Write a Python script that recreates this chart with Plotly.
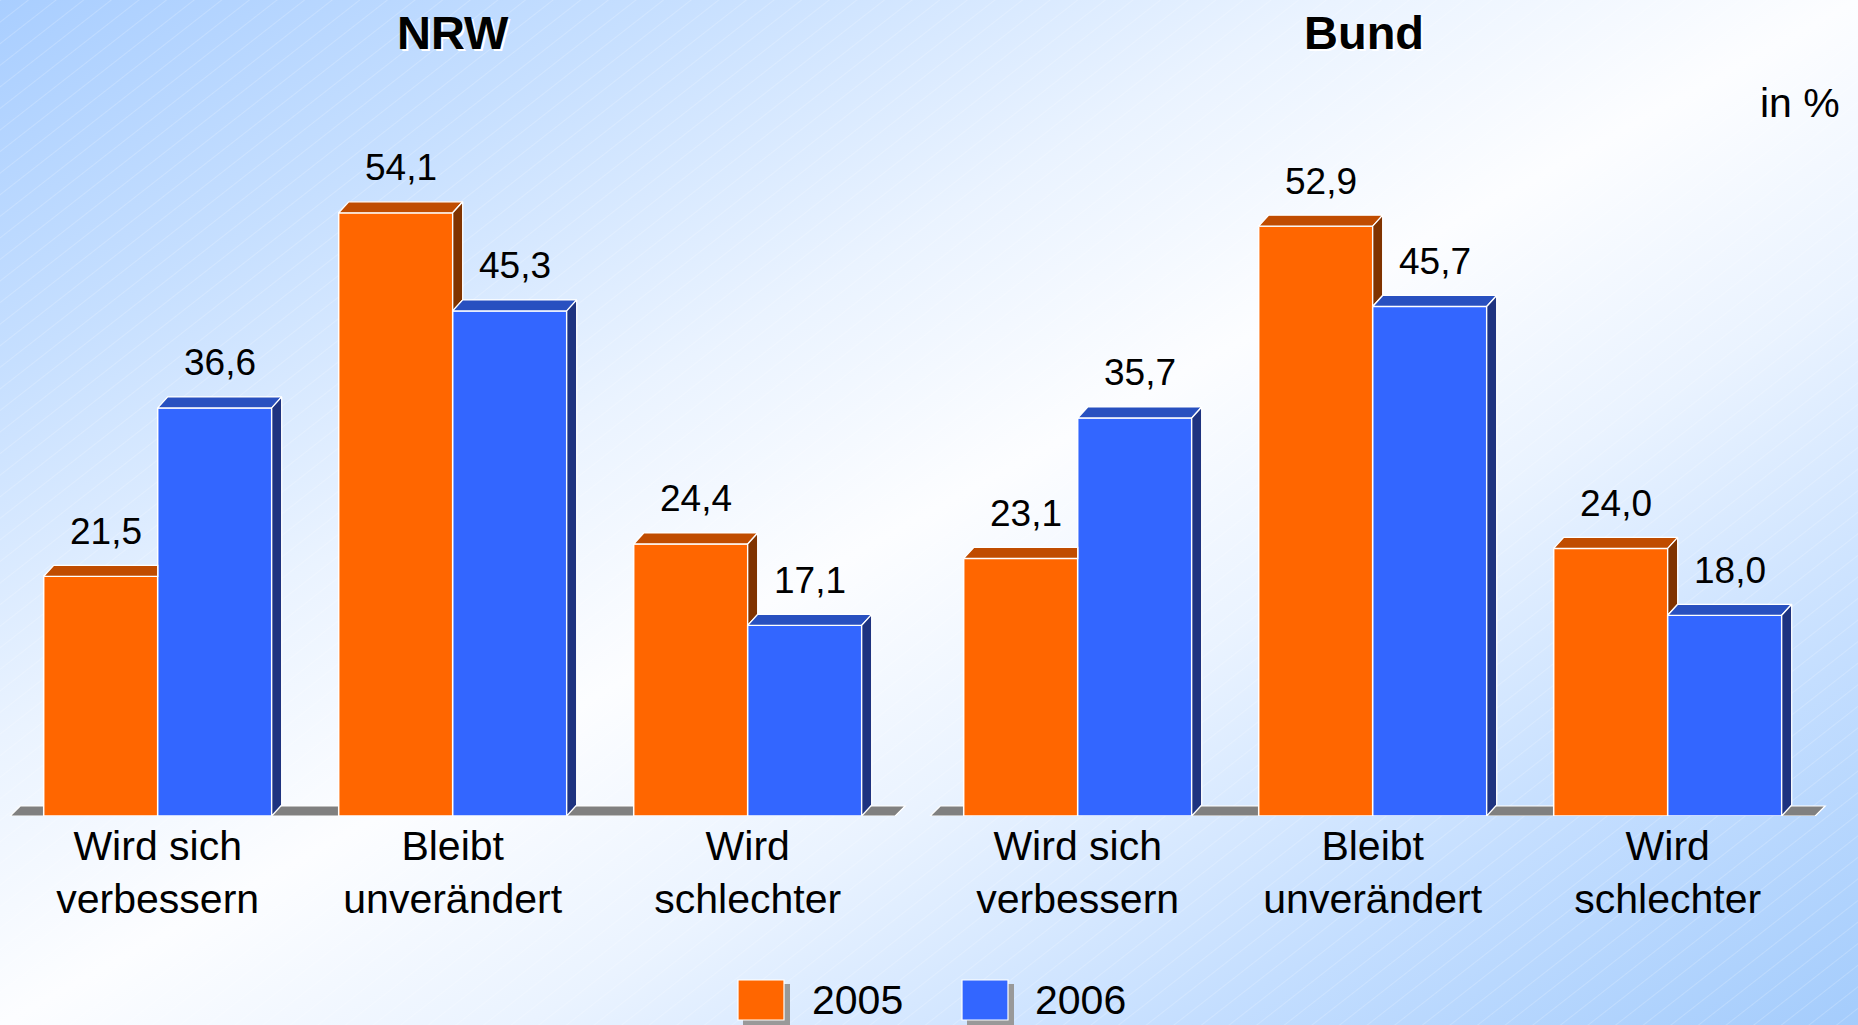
import base64
import plotly.graph_objects as go

# ---------------- data ----------------
categories = ["Wird sich<br>verbessern", "Bleibt<br>unverändert", "Wird<br>schlechter"]
years = ["2005", "2006"]
panel_titles = ["NRW", "Bund"]
nrw_2005 = [21.5, 54.1, 24.4]
nrw_2006 = [36.6, 45.3, 17.1]
bund_2005 = [23.1, 52.9, 24.0]
bund_2006 = [35.7, 45.7, 18.0]
unit_label = "in %"

# ---------------- styling / geometry ----------------
W_PX, H_PX = 1858, 1025
BASE_PX = 816
PX_PER_UNIT = 11.15
CAT_PX = 295.0
YMAX = 70
X_RANGE = [-0.53, 2.56]
CAT_CENTER0_PX = [157.7, 1077.7]
BAR_W = 114.0 / CAT_PX
DX = 10.0 / CAT_PX
DY = 11.0 / PX_PER_UNIT
FLOOR_DX = 10.0 / CAT_PX
FLOOR_DY = 10.0 / PX_PER_UNIT

FRONT = ["#FF6600", "#3366FF"]
TOP = ["#C04C00", "#2850C0"]
SIDE = ["#803300", "#1E3380"]
FLOOR = "#808080"
FONT = "Liberation Sans, Arial, Helvetica, sans-serif"

panels = [(nrw_2005, nrw_2006), (bund_2005, bund_2006)]

# background gradient as svg
svg = f"""<svg xmlns='http://www.w3.org/2000/svg' width='{W_PX}' height='{H_PX}' viewBox='0 0 {W_PX} {H_PX}' preserveAspectRatio='none'>
<defs>
<linearGradient id='g' x1='0' y1='0' x2='1' y2='1'>
<stop offset='0' stop-color='#A9CEFF'/>
<stop offset='0.18' stop-color='#C6DFFF'/>
<stop offset='0.36' stop-color='#EAF3FF'/>
<stop offset='0.5' stop-color='#FCFDFF'/>
<stop offset='0.64' stop-color='#EAF3FF'/>
<stop offset='0.82' stop-color='#C4DEFF'/>
<stop offset='1' stop-color='#A4CCFC'/>
</linearGradient>
<pattern id='p' width='17' height='17' patternUnits='userSpaceOnUse' patternTransform='rotate(-38)'>
<line x1='0' y1='0.5' x2='17' y2='0.5' stroke='#FFFFFF' stroke-opacity='0.2' stroke-width='1'/>
</pattern>
</defs>
<rect width='{W_PX}' height='{H_PX}' fill='url(#g)'/>
<rect width='{W_PX}' height='{H_PX}' fill='url(#p)'/>
</svg>"""
bg_src = "data:image/svg+xml;base64," + base64.b64encode(svg.encode()).decode()

fig = go.Figure()

xnames = ["x", "x2"]
ynames = ["y", "y2"]
xs_idx = list(range(len(categories)))


def fmt(v):
    return f"{v:.1f}".replace(".", ",")


annotations = []
shapes = []

for p, (s05, s06) in enumerate(panels):
    xa, ya = xnames[p], ynames[p]
    series = [s05, s06]
    # front faces
    for s, vals in enumerate(series):
        fig.add_trace(go.Bar(
            x=xs_idx, y=vals, width=BAR_W, offset=-BAR_W if s == 0 else 0,
            marker=dict(color=FRONT[s], line=dict(color="white", width=1.5)),
            xaxis=xa, yaxis=ya, showlegend=False, hoverinfo="skip",
        ))
    # top and side faces
    for s, vals in enumerate(series):
        tx, ty, sx, sy = [], [], [], []
        for i, v in enumerate(vals):
            xl = i - BAR_W if s == 0 else i
            xr = xl + BAR_W
            nxt = series[s + 1][i] if s + 1 < len(series) else None
            if nxt is not None and nxt > v:
                tx += [xl, xl + DX, xr, xr, xl, None]
                ty += [v, v + DY, v + DY, v, v, None]
            else:
                tx += [xl, xl + DX, xr + DX, xr, xl, None]
                ty += [v, v + DY, v + DY, v, v, None]
            if nxt is None:
                low = 0
            elif v > nxt:
                low = nxt
            else:
                low = None
            if low is not None:
                sx += [xr, xr + DX, xr + DX, xr, xr, None]
                sy += [low, low + DY, v + DY, v, low, None]
        fig.add_trace(go.Scatter(x=tx, y=ty, fill="toself", fillcolor=TOP[s], mode="lines",
                                 line=dict(color="white", width=1.3), xaxis=xa, yaxis=ya,
                                 showlegend=False, hoverinfo="skip"))
        if sx:
            fig.add_trace(go.Scatter(x=sx, y=sy, fill="toself", fillcolor=SIDE[s], mode="lines",
                                     line=dict(color="white", width=1.3), xaxis=xa, yaxis=ya,
                                     showlegend=False, hoverinfo="skip"))
        # value labels
        for i, v in enumerate(vals):
            xc = (i - BAR_W / 2 if s == 0 else i + BAR_W / 2) + DX / 2
            annotations.append(dict(x=xc, y=v, xref=xa, yref=ya, text=fmt(v), showarrow=False,
                                    yshift=45, font=dict(family=FONT, size=37, color="black")))
    # floor
    x0, x1 = -0.5, len(categories) - 0.5
    shapes.append(dict(type="path", xref=xa, yref=ya, layer="below",
                       path=f"M {x0},0 L {x1},0 L {x1 + FLOOR_DX},{FLOOR_DY} L {x0 + FLOOR_DX},{FLOOR_DY} Z",
                       fillcolor=FLOOR, line=dict(color="white", width=1.2)))

# titles
title_px = [(453, 32), (1364, 32)]
for t, (px, py) in zip(panel_titles, title_px):
    annotations.append(dict(x=px / W_PX, y=1 - py / H_PX, xref="paper", yref="paper", text=t,
                            showarrow=False, xanchor="center", yanchor="middle",
                            font=dict(family=FONT, size=47, color="black", weight="bold",
                                      shadow="2px 2px 0px #FFFFFF")))
annotations.append(dict(x=1800 / W_PX, y=1 - 103 / H_PX, xref="paper", yref="paper", text=unit_label,
                        showarrow=False, xanchor="center", yanchor="middle",
                        font=dict(family=FONT, size=41, color="black")))

# legend (drawn manually for large swatches)
leg_px = [(738, 810), (962, 1033)]
for s, (sq_x, tx_x) in enumerate(leg_px):
    sq_y0, sq_y1 = 980, 1020
    shapes.append(dict(type="rect", xref="paper", yref="paper", layer="above",
                       x0=(sq_x + 5) / W_PX, x1=(sq_x + 52) / W_PX,
                       y0=1 - (sq_y1 + 5) / H_PX, y1=1 - (sq_y0 + 4) / H_PX,
                       fillcolor="#999999", line=dict(width=0)))
    shapes.append(dict(type="rect", xref="paper", yref="paper", layer="above",
                       x0=sq_x / W_PX, x1=(sq_x + 46) / W_PX,
                       y0=1 - sq_y1 / H_PX, y1=1 - sq_y0 / H_PX,
                       fillcolor=FRONT[s], line=dict(color="white", width=1.2)))
    annotations.append(dict(x=tx_x / W_PX, y=1 - 1000 / H_PX, xref="paper", yref="paper",
                            text=years[s], showarrow=False, xanchor="left", yanchor="middle",
                            font=dict(family=FONT, size=41, color="black")))

layout = dict(
    width=W_PX, height=H_PX, autosize=False,
    margin=dict(l=0, r=0, t=0, b=0, pad=0),
    paper_bgcolor="white", plot_bgcolor="rgba(0,0,0,0)",
    barmode="overlay", showlegend=False,
    annotations=annotations, shapes=shapes,
    images=[dict(source=bg_src, xref="paper", yref="paper", x=0, y=1, sizex=1, sizey=1,
                 xanchor="left", yanchor="top", sizing="stretch", layer="below")],
)
ydom = [(H_PX - BASE_PX) / H_PX, (H_PX - BASE_PX + YMAX * PX_PER_UNIT) / H_PX]
for p in range(2):
    left = CAT_CENTER0_PX[p] + X_RANGE[0] * CAT_PX
    right = CAT_CENTER0_PX[p] + X_RANGE[1] * CAT_PX
    layout["xaxis" + ("" if p == 0 else "2")] = dict(
        domain=[left / W_PX, right / W_PX], range=X_RANGE,
        tickvals=xs_idx, ticktext=categories, showgrid=False, zeroline=False, showline=False,
        ticks="", tickfont=dict(family=FONT, size=41, color="black"), ticklabelstandoff=2,
        anchor="y" if p == 0 else "y2", fixedrange=True,
    )
    layout["yaxis" + ("" if p == 0 else "2")] = dict(
        domain=ydom, range=[0, YMAX], visible=False, showgrid=False, zeroline=False,
        anchor="x" if p == 0 else "x2", fixedrange=True,
    )
fig.update_layout(**layout)

fig.write_html("out.html", config={"displayModeBar": False},
               post_script="document.body.style.margin='0';document.body.style.overflow='hidden';")
